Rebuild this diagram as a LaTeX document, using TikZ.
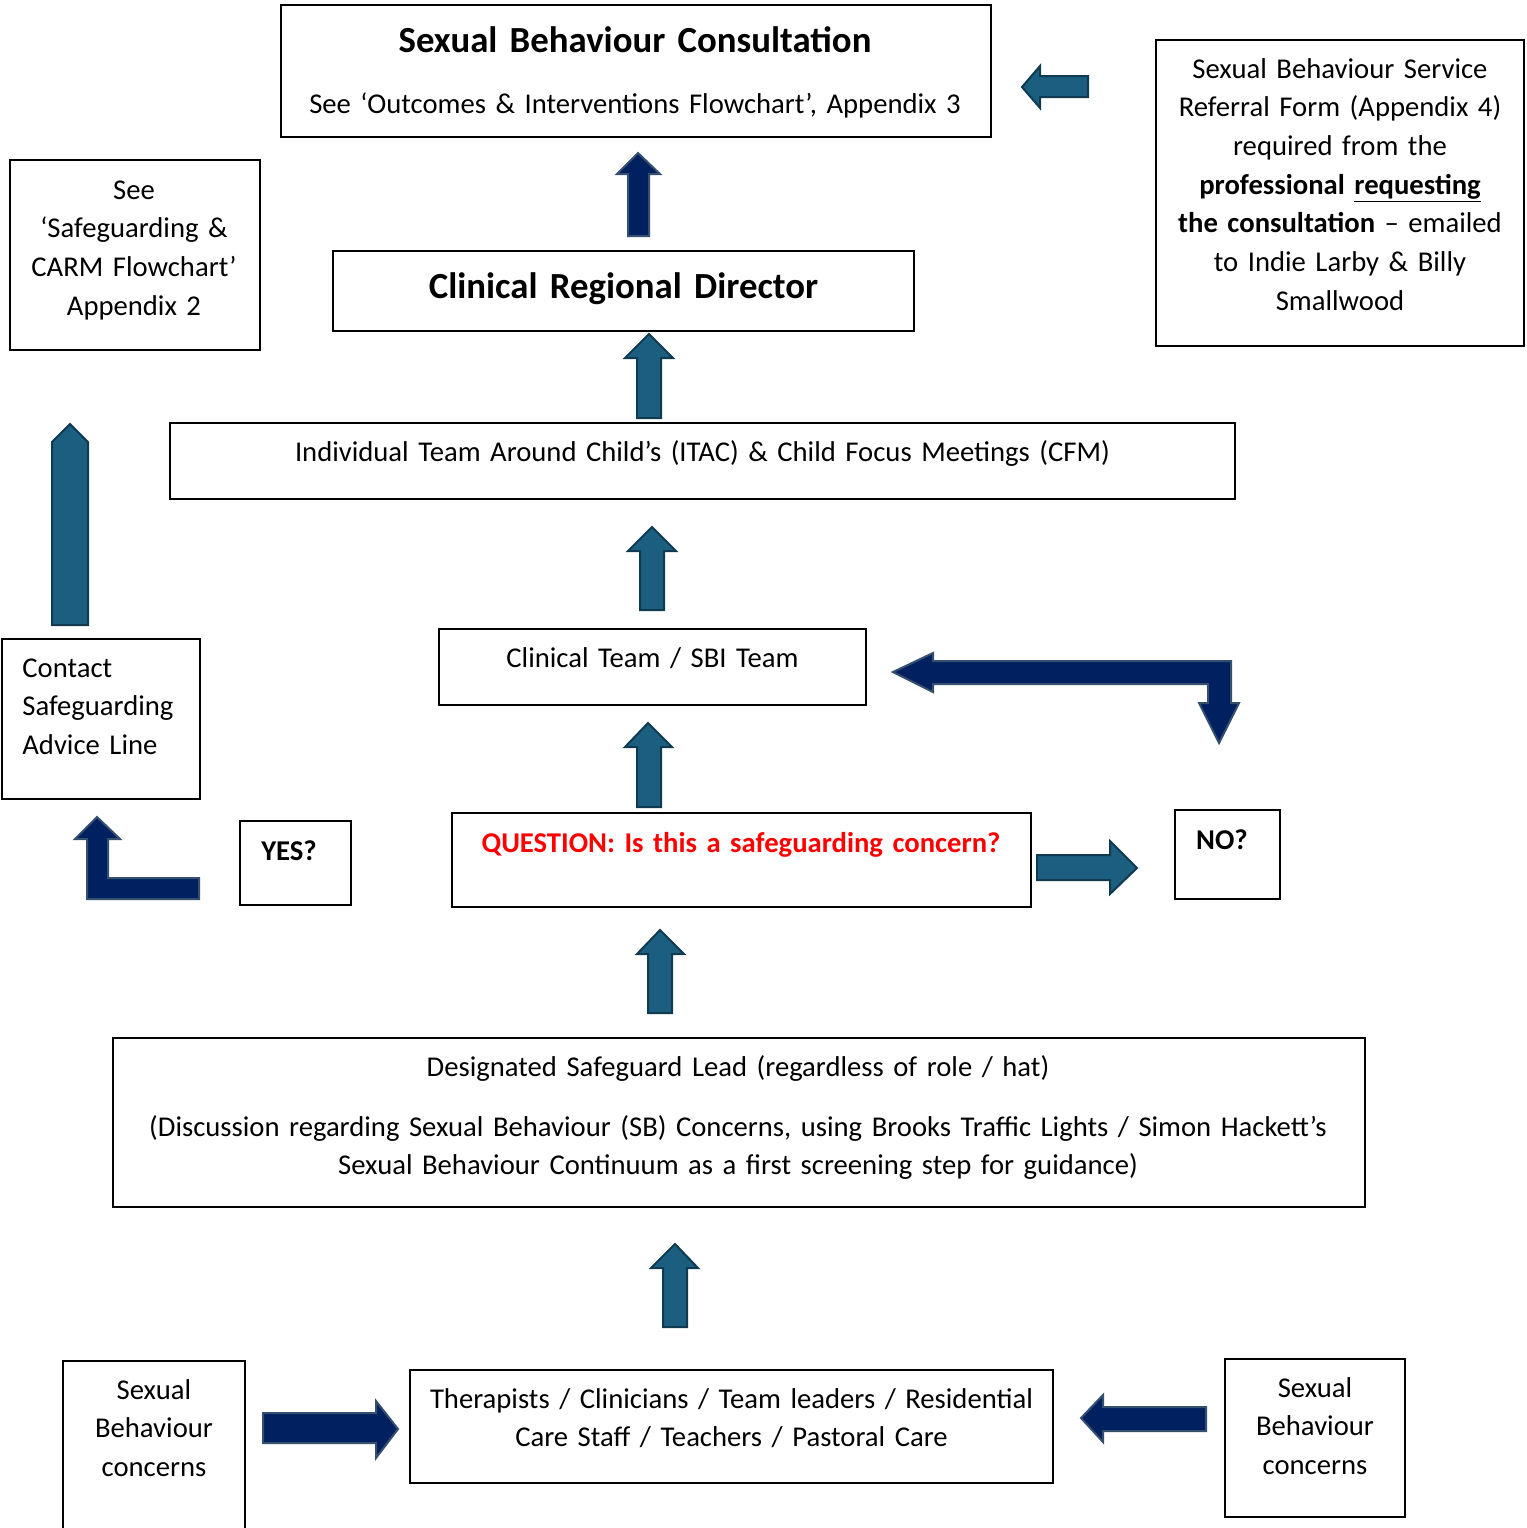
\documentclass[tikz,border=0pt]{standalone}
\usepackage{fontspec}
\setmainfont{Carlito}
\usetikzlibrary{positioning, fit}

\definecolor{sbteal}{HTML}{1B5E80}
\definecolor{sbtealedge}{HTML}{0F3A4F}
\definecolor{sbnavy}{HTML}{002060}
\definecolor{sbnavyedge}{HTML}{34506E}
\definecolor{qred}{HTML}{FF0000}

\begin{document}
\begin{tikzpicture}[x=0.5pt, y=-0.5pt,
  box/.style={draw, line width=0.8pt, inner sep=0pt},
  txt/.style={inner sep=0pt, anchor=base, text width=700pt, align=center,
    font=\fontsize{14.33pt}{19.35pt}\selectfont},
  boldtxt/.style={txt, font=\fontsize{14.33pt}{19.35pt}\selectfont\bfseries},
  bigtxt/.style={txt, font=\fontsize{18.4pt}{22pt}\selectfont\bfseries},
  tealarr/.style={fill=sbteal, draw=sbtealedge, line width=1pt},
  navyarr/.style={fill=sbnavy, draw=sbnavyedge, line width=1pt}]
  \useasboundingbox (0,0) rectangle (1527,1528);
  \clip (0,0) rectangle (1527,1528);

  % top row
  \node[bigtxt] (consulttitle) at (635,52) {Sexual Behaviour Consultation};
  \node[txt] (consultsub) at (635,113) {See ‘Outcomes \& Interventions Flowchart’, Appendix 3};
  \node[box, fit={(281,5) (991,137)}] (consult) {};

  \node[txt] (referraltxt) at (1340,78) {Sexual Behaviour Service\\Referral Form (Appendix 4)\\required from the\\\textbf{professional \underline{requesting}}\\\textbf{the consultation} – emailed\\to Indie Larby \& Billy\\Smallwood};
  \node[box, fit={(1156,40) (1524,346)}] (referral) {};

  \node[txt] (carmtxt) at (134,199) {See\\‘Safeguarding \&\\CARM Flowchart’\\Appendix 2};
  \node[box, fit={(10,160) (260,350)}] (carm) {};

  \node[bigtxt] (crdtxt) at (623.5,298) {Clinical Regional Director};
  \node[box, fit={(333,251) (914,331)}] (crd) {};

  \node[txt] (itactxt) at (702.5,461) {Individual Team Around Child’s (ITAC) \& Child Focus Meetings (CFM)};
  \node[box, fit={(170,423) (1235,499)}] (itac) {};

  % middle
  \node[txt] (clintxt) at (652.5,667) {Clinical Team / SBI Team};
  \node[box, fit={(439,629) (866,705)}] (clin) {};

  \node[txt, anchor=base west, align=left, text width=200pt] (contacttxt) at (22,677) {Contact\\Safeguarding\\Advice Line};
  \node[box, fit={(2,639) (200,799)}] (contact) {};

  \node[boldtxt] (yestxt) at (289,860) {YES?};
  \node[box, fit={(240,821) (351,905)}] (yes) {};

  \node[boldtxt, text=qred] (questiontxt) at (741,852) {QUESTION: Is this a safeguarding concern?};
  \node[box, fit={(452,813) (1031,907)}] (question) {};

  \node[boldtxt] (notxt) at (1222,849) {NO?};
  \node[box, fit={(1175,810) (1280,899)}] (no) {};

  \node[txt] (dsltxt) at (738,1076) {Designated Safeguard Lead (regardless of role / hat)};
  \node[txt] (dslnote) at (738,1136) {(Discussion regarding Sexual Behaviour (SB) Concerns, using Brooks Traffic Lights / Simon Hackett’s\\Sexual Behaviour Continuum as a first screening step for guidance)};
  \node[box, fit={(113,1038) (1365,1207)}] (dsl) {};

  % bottom row
  \node[txt] (staff) at (731.5,1408) {Therapists / Clinicians / Team leaders / Residential\\Care Staff / Teachers / Pastoral Care};
  \node[box, fit={(410,1370) (1053,1483)}] (staffbox) {};

  \node[txt] (sbleft) at (154,1399) {Sexual\\Behaviour\\concerns};
  \draw[line width=0.8pt] (63,1540) |- (245,1361) -- (245,1540);

  \node[txt] (sbrighttxt) at (1315,1397) {Sexual\\Behaviour\\concerns};
  \node[box, fit={(1225,1359) (1405,1517)}] (sbright) {};

  % block arrows
  \draw[tealarr] (1022,87) -- (1040,66) -- (1040,76) -- (1088,76) -- (1088,97) -- (1040,97) -- (1040,108) -- cycle;
  \draw[navyarr] (638,153) -- (660,174) -- (649,174) -- (649,236) -- (628,236) -- (628,174) -- (617,174) -- cycle;
  \draw[tealarr] (649,334) -- (673,358) -- (661,358) -- (661,418) -- (637,418) -- (637,358) -- (625,358) -- cycle;
  \draw[tealarr] (70,424) -- (88,442) -- (88,625) -- (52,625) -- (52,442) -- cycle;
  \draw[tealarr] (652,527) -- (676,551) -- (664,551) -- (664,610) -- (640,610) -- (640,551) -- (628,551) -- cycle;
  \draw[navyarr] (893,672) -- (933,653) -- (933,661) -- (1231,661) -- (1231,703) -- (1239,703) -- (1219,743)
    -- (1199,703) -- (1208,703) -- (1208,684) -- (933,684) -- (933,692) -- cycle;
  \draw[tealarr] (648,723) -- (672,747) -- (661,747) -- (661,807) -- (637,807) -- (637,747) -- (625,747) -- cycle;
  \draw[navyarr] (97,817) -- (120,839) -- (108,839) -- (108,878) -- (199,878) -- (199,899) -- (87,899) -- (87,839) -- (75,839) -- cycle;
  \draw[tealarr] (1037,855) -- (1110,855) -- (1110,841) -- (1137,868) -- (1110,894) -- (1110,880) -- (1037,880) -- cycle;
  \draw[tealarr] (660,930) -- (684,954) -- (672,954) -- (672,1013) -- (648,1013) -- (648,954) -- (637,954) -- cycle;
  \draw[tealarr] (675,1244) -- (698,1268) -- (687,1268) -- (687,1327) -- (663,1327) -- (663,1268) -- (651,1268) -- cycle;
  \draw[navyarr] (263,1413) -- (376,1413) -- (376,1401) -- (398,1429) -- (376,1458) -- (376,1443) -- (263,1443) -- cycle;
  \draw[navyarr] (1081,1418) -- (1103,1395) -- (1103,1407) -- (1206,1407) -- (1206,1431) -- (1103,1431) -- (1103,1442) -- cycle;
\end{tikzpicture}
\end{document}
